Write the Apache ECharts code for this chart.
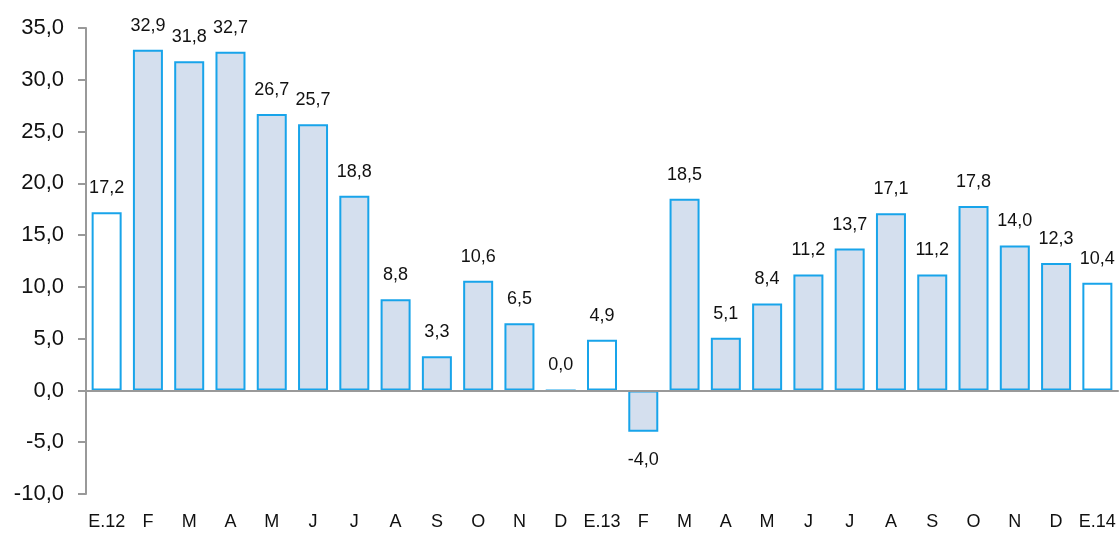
<!DOCTYPE html>
<html><head><meta charset="utf-8">
<script src="https://cdn.jsdelivr.net/npm/echarts@6/dist/echarts.min.js"></script>
<style>html,body{margin:0;padding:0;background:#fff}#c{width:1120px;height:534px}</style>
</head><body><div id="c"></div>
<script>
const categories = ['E.12','F','M','A','M','J','J','A','S','O','N','D','E.13','F','M','A','M','J','J','A','S','O','N','D','E.14'];
const values = [17.2,32.9,31.8,32.7,26.7,25.7,18.8,8.8,3.3,10.6,6.5,0.0,4.9,-4.0,18.5,5.1,8.4,11.2,13.7,17.1,11.2,17.8,14.0,12.3,10.4];
const whiteBars = ['E.12','E.13','E.14'];
const yTicks = {min:-10, max:35, interval:5};

const fmt = v => v.toFixed(1).replace('.', ',');
const font = '"Liberation Sans", Arial, sans-serif';
const data = values.map((v,i)=>{
  const white = whiteBars.includes(categories[i]);
  return {
    value: v,
    itemStyle: {color: white ? '#ffffff' : '#d4dfee', borderColor:'#18a4ea', borderWidth:2},
    label: v < 0 ? {position:'bottom', distance:19} : {position:'top', distance:15}
  };
});
const chart = echarts.init(document.getElementById('c'));
chart.setOption({
  animation:false,
  grid:{left:86, right:2, top:28, bottom:40},
  xAxis:[
    {type:'category', data:categories, axisLine:{show:true, onZero:true, lineStyle:{color:'#999', width:2}},
     axisTick:{show:false}, axisLabel:{show:false}, z:5},
    {type:'category', data:categories, position:'bottom', axisLine:{show:false, onZero:false}, axisTick:{show:false},
     axisLabel:{color:'#111', fontSize:18, fontFamily:font, margin:19, interval:0}}
  ],
  yAxis:{type:'value', min:yTicks.min, max:yTicks.max, interval:yTicks.interval,
    axisLine:{show:true, lineStyle:{color:'#999', width:2}},
    axisTick:{show:true, inside:false, length:8, lineStyle:{color:'#999', width:2}},
    splitLine:{show:false},
    axisLabel:{color:'#111', fontSize:22, fontFamily:font, margin:22, formatter:v=>fmt(v)}},
  series:[{type:'bar', xAxisIndex:0, data:data, barWidth:30, z:3,
    label:{show:true, color:'#111', fontSize:18, fontFamily:font, formatter:p=>fmt(p.value)}}]
});
</script></body></html>
